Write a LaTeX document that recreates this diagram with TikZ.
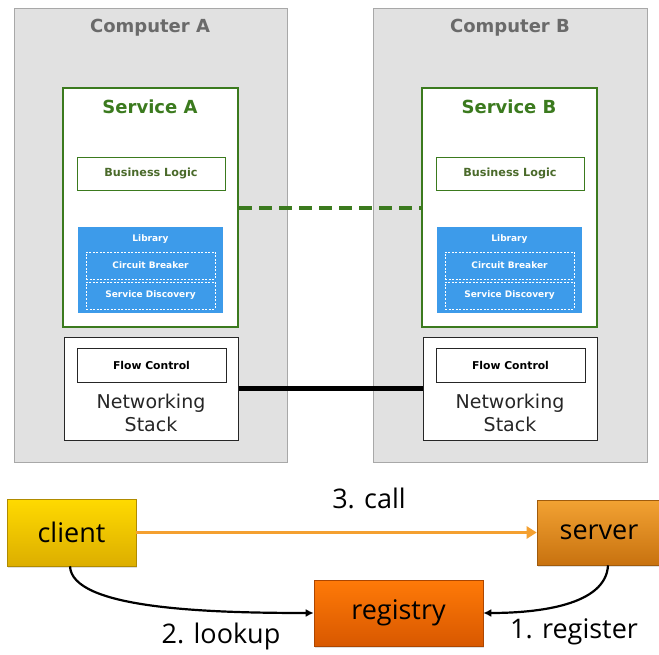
\documentclass[tikz,border=0pt]{standalone}
\usepackage{fontspec}
\setmainfont{DejaVu Sans}
\newfontfamily\labelfont{Open Sans}
\usetikzlibrary{arrows.meta,shadows}
\definecolor{machinefill}{HTML}{E1E1E1}
\definecolor{machineline}{HTML}{A8A8A8}
\definecolor{machinetext}{HTML}{6A6A6A}
\definecolor{svcgreen}{HTML}{3B7A1E}
\definecolor{logicgreen}{HTML}{4A6A2A}
\definecolor{libblue}{HTML}{3D9BEA}
\definecolor{callorange}{HTML}{F4A030}
\definecolor{clienttop}{HTML}{FFDA00}
\definecolor{clientbot}{HTML}{DCAE00}
\definecolor{servertop}{HTML}{F2A233}
\definecolor{serverbot}{HTML}{C8720F}
\definecolor{registrytop}{HTML}{FF7A08}
\definecolor{registrybot}{HTML}{D85800}
\tikzset{
  machine/.style={draw=machineline, fill=machinefill, line width=1pt, minimum width=#1, minimum height=453pt, inner sep=0pt},
  machinelabel/.style={text=machinetext, font=\bfseries\fontsize{18}{21}\selectfont},
  service/.style={draw=svcgreen, fill=white, line width=2pt, minimum width=175pt, minimum height=238pt, inner sep=0pt},
  servicelabel/.style={text=svcgreen, font=\bfseries\fontsize{18}{21}\selectfont},
  logic/.style={draw=svcgreen, fill=white, line width=0.8pt, minimum width=148pt, minimum height=33pt, inner sep=0pt, text=logicgreen, font=\bfseries\fontsize{11.2}{13}\selectfont},
  library/.style={fill=libblue, minimum width=145pt, minimum height=86pt, inner sep=0pt},
  liblabel/.style={text=white, font=\bfseries\fontsize{9}{11}\selectfont},
  libpart/.style={draw=white, line width=0.6pt, dash pattern=on 2pt off 1.5pt, minimum width=129pt, minimum height=27pt, inner sep=0pt, text=white, font=\bfseries\fontsize{9}{11}\selectfont},
  netstack/.style={draw=black!85, fill=white, line width=1pt, minimum width=174pt, minimum height=103pt, inner sep=0pt},
  flow/.style={draw=black!85, fill=white, line width=1pt, minimum width=149pt, minimum height=34pt, inner sep=0pt, font=\bfseries\fontsize{10.8}{13}\selectfont},
  netlabel/.style={align=center, font=\fontsize{19}{23}\selectfont, text=black!85},
  rolebox/.style={draw=#1bot!80!black, line width=0.6pt, shading=axis, top color=#1top, bottom color=#1bot, inner sep=0pt, font=\labelfont\fontsize{27}{30}\selectfont, drop shadow={opacity=0.25, shadow xshift=1pt, shadow yshift=-1.5pt}},
  steplabel/.style={font=\labelfont\fontsize{27}{30}\selectfont},
  blackarrow/.style={line width=2.2pt, -{Latex[length=8pt,width=8pt]}},
}
\begin{document}
\begin{tikzpicture}[x=1pt,y=-1pt]
\useasboundingbox (0,0) rectangle (659,655);
\fill[white] (0,0) rectangle (659,655);

% two machines
\node[machine=273pt] (compA) at (150.5,235.5) {};
\node[machine=274pt] (compB) at (510,235.5) {};
\node[machinelabel] (compAlbl) at (150,28) {Computer A};
\node[machinelabel] (compBlbl) at (510,28) {Computer B};

% services
\node[service] (svcA) at (150.5,207.5) {};
\node[service] (svcB) at (509.5,207.5) {};
\node[servicelabel] (svcAlbl) at (150,107) {Service A};
\node[servicelabel] (svcBlbl) at (509,107) {Service B};

\node[logic] (logicA) at (151,173.5) {Business Logic};
\node[logic] (logicB) at (510,173.5) {Business Logic};

\node[library] (libA) at (150.5,270) {};
\node[library] (libB) at (509.5,270) {};
\node[liblabel] (libAlbl) at (150.5,239) {Library};
\node[liblabel] (libBlbl) at (509.5,239) {Library};
\node[libpart] (cbA) at (150.5,265.5) {Circuit Breaker};
\node[libpart] (sdA) at (150.5,295.5) {Service Discovery};
\node[libpart] (cbB) at (509.5,265.5) {Circuit Breaker};
\node[libpart] (sdB) at (509.5,295.5) {Service Discovery};

% networking stacks
\node[netstack] (netA) at (151,388.5) {};
\node[netstack] (netB) at (510,388.5) {};
\node[flow] (flowA) at (151.5,365) {Flow Control};
\node[flow] (flowB) at (510.5,365) {Flow Control};
\node[netlabel] (netAlbl) at (151,413) {Networking\\Stack};
\node[netlabel] (netBlbl) at (510,413) {Networking\\Stack};

% links between the two sides
\draw[svcgreen, line width=4.5pt, dash pattern=on 13pt off 7pt]
  (svcA.east |- 0,208) coordinate (gA) -- (svcB.west |- 0,208) coordinate (gB);
\draw[black, line width=5pt] (netA.east |- 0,388) coordinate (nA) -- (netB.west |- 0,388) coordinate (nB);

% client / server / registry
\node[rolebox=client, minimum width=129pt, minimum height=67pt] (client) at (71.5,532.5) {client};
\node[rolebox=server, minimum width=124pt, minimum height=65pt] (server) at (599,532.5) {server};
\node[rolebox=registry, minimum width=169pt, minimum height=66pt] (registry) at (398.5,613) {registry};

\draw[callorange, line width=3pt, -{Triangle[length=10pt,width=12pt]}] (client.east) -- (server.west);
\node[steplabel] (calllbl) at (369,498) {3. call};

\draw[blackarrow] ([xshift=-1.5pt]client.south) .. controls +(2,42) and +(-110,0) .. (registry.west);
\draw[blackarrow] ([xshift=9pt]server.south) .. controls +(-2,40) and +(55,0) .. (registry.east);
\node[steplabel] (lookuplbl) at (221,636) {2. lookup};
\node[steplabel] (registerlbl) at (574,632) {1. register};
\end{tikzpicture}
\end{document}
